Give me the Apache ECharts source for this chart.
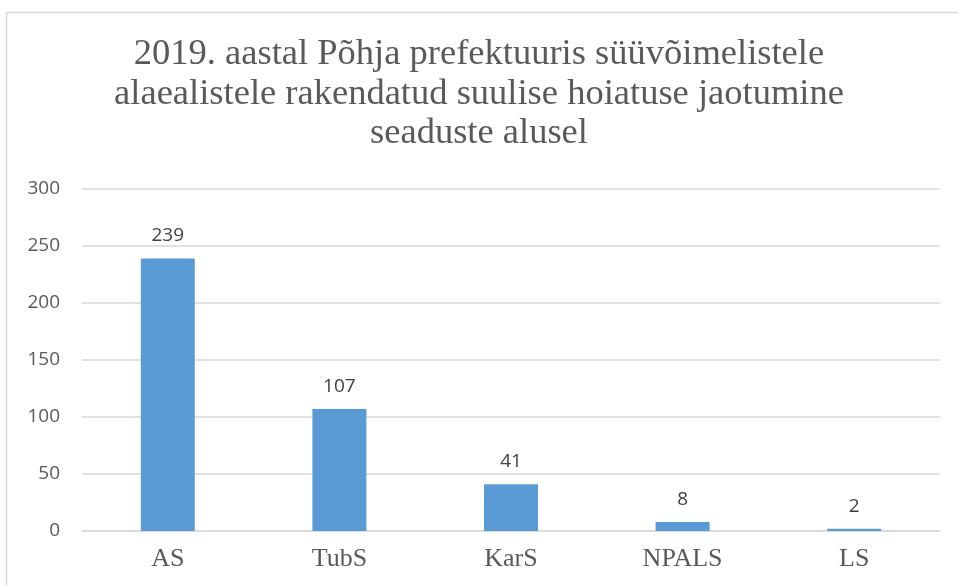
<!DOCTYPE html>
<html lang="et">
<head>
    <meta charset="UTF-8">
    <title>2019. aastal Põhja prefektuuris</title>
    <script src="https://cdn.jsdelivr.net/npm/echarts@6/dist/echarts.min.js"></script>
    <style>
        body { margin: 0; background: #ffffff; }
        #chart { width: 958px; height: 586px; }
    </style>
</head>
<body>
    <div id="chart"></div>
    <script>
        // data
        const categories = ['AS', 'TubS', 'KarS', 'NPALS', 'LS'];
        const values = [239, 107, 41, 8, 2];
        const titleText = '2019. aastal Põhja prefektuuris süüvõimelistele\nalaealistele rakendatud suulise hoiatuse jaotumine\nseaduste alusel';

        let chart = echarts.init(document.getElementById('chart'));
        chart.setOption({
            animation: false,
            backgroundColor: '#ffffff',
            graphic: [{
                type: 'rect',
                shape: { x: 6.5, y: 12.5, width: 970, height: 600 },
                style: { fill: 'none', stroke: '#d9d9d9', lineWidth: 1.5 }
            }],
            title: {
                text: titleText,
                left: 'center',
                top: 30,
                textStyle: {
                    fontFamily: 'Liberation Serif',
                    fontWeight: 'normal',
                    fontSize: 36.5,
                    lineHeight: 39.5,
                    color: '#595959'
                }
            },
            grid: { left: 82, right: 18, top: 189, bottom: 55 },
            xAxis: {
                type: 'category',
                data: categories,
                axisTick: { show: false },
                axisLine: { lineStyle: { color: '#d9d9d9', width: 1.5 } },
                axisLabel: {
                    fontFamily: 'Liberation Serif',
                    fontSize: 26,
                    color: '#595959',
                    margin: 15
                }
            },
            yAxis: {
                type: 'value',
                min: 0,
                max: 300,
                interval: 50,
                axisLine: { show: false },
                axisTick: { show: false },
                splitLine: { lineStyle: { color: '#d9d9d9', width: 1.5 } },
                axisLabel: {
                    fontFamily: 'Open Sans',
                    fontSize: 19,
                    color: '#595959',
                    margin: 22
                }
            },
            series: [{
                type: 'bar',
                data: values,
                barWidth: 54,
                itemStyle: { color: '#5b9bd5' },
                label: {
                    show: true,
                    position: 'top',
                    distance: 13,
                    fontFamily: 'Open Sans',
                    fontSize: 19,
                    color: '#404040'
                }
            }]
        });
    </script>
</body>
</html>
